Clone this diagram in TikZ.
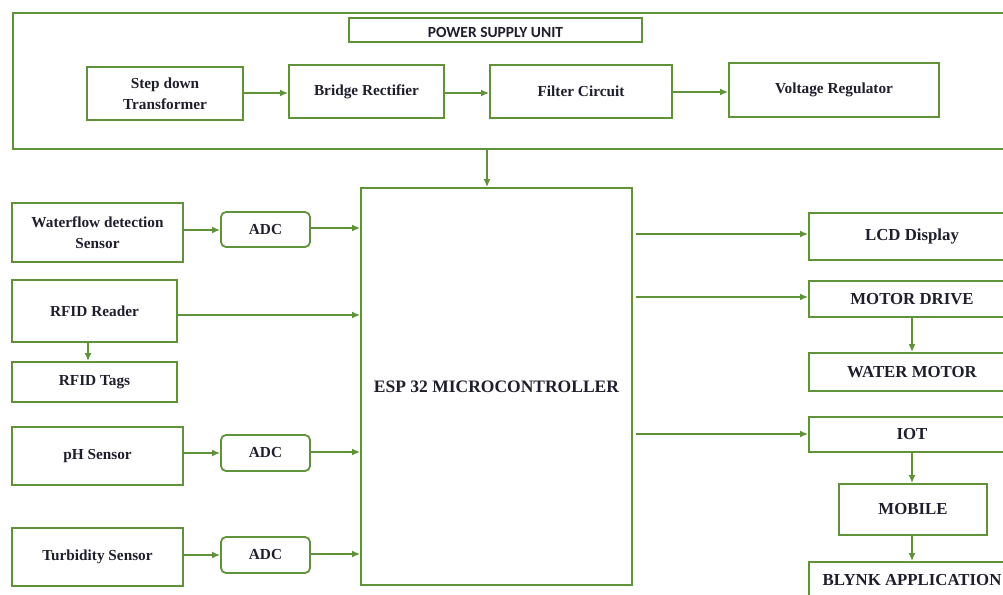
\documentclass[tikz,border=0pt]{standalone}
\usepackage{fontspec}
\setmainfont{Liberation Serif}
\newfontfamily\calib{Carlito}
\usetikzlibrary{arrows.meta,calc}
\definecolor{gr}{RGB}{96,146,58}
\definecolor{ink}{RGB}{30,30,45}
\begin{document}
\begin{tikzpicture}[x=1pt,y=-1pt,
  box/.style={draw=gr,line width=1.8pt,inner sep=0pt,align=center,text=ink,
    font=\fontsize{15.3}{21}\selectfont\bfseries},
  bigbox/.style={box,font=\fontsize{16.8}{20}\selectfont\bfseries},
  adcbox/.style={box,rounded corners=5pt},
  arr/.style={draw=gr,line width=1.9pt,-{Latex[length=8pt,width=7pt]}}]
\useasboundingbox (0,0) rectangle (1003,594);
\clip (0,0) rectangle (1003,594);
% power supply unit
\node[box,minimum width=998,minimum height=136,anchor=north west] (psu) at (12,12) {};
\node[box,minimum width=293,minimum height=24,text depth=0pt,font=\calib\fontsize{15.5}{17}\selectfont\bfseries] (title) at (495.5,30) {\raisebox{-5pt}{POWER SUPPLY UNIT}};
\node[box,minimum width=156,minimum height=53] (sdt) at (165,93.5) {Step down\\Transformer};
\node[box,minimum width=155,minimum height=53] (br) at (366.5,91.5) {Bridge Rectifier};
\node[box,minimum width=182,minimum height=53] (fc) at (581,91.5) {Filter Circuit};
\node[box,minimum width=210,minimum height=54] (vr) at (834,90) {Voltage Regulator};
\draw[arr] (sdt.east |- 0,93) -- (br.west |- 0,93);
\draw[arr] (br.east |- 0,93) -- (fc.west |- 0,93);
\draw[arr] (fc.east |- 0,92) -- (vr.west |- 0,92);
% microcontroller
\node[box,font=\fontsize{17.5}{20}\selectfont\bfseries,minimum width=271,minimum height=397] (esp) at (496.5,386.5) {ESP 32 MICROCONTROLLER};
\draw[arr] ([xshift=-9.5pt]psu.south -| esp.north) -- ([xshift=-9.5pt]esp.north);
% left side
\node[box,minimum width=171,minimum height=59] (wf) at (97.5,232.5) {Waterflow detection\\Sensor};
\node[adcbox,minimum width=89,minimum height=35] (adc1) at (265.5,229.5) {ADC};
\node[box,minimum width=165,minimum height=62] (rr) at (94.5,311) {RFID Reader};
\node[box,minimum width=165,minimum height=40] (rt) at (94.5,382) {RFID Tags};
\node[box,minimum width=171,minimum height=58] (ph) at (97.5,456) {pH Sensor};
\node[adcbox,minimum width=89,minimum height=36] (adc2) at (265.5,453) {ADC};
\node[box,minimum width=171,minimum height=58] (tb) at (97.5,557) {Turbidity Sensor};
\node[adcbox,minimum width=89,minimum height=36] (adc3) at (265.5,555) {ADC};
\draw[arr] (wf.east |- 0,230) -- (adc1.west |- 0,230);
\draw[arr] (adc1.east |- 0,228) -- (esp.west |- 0,228);
\draw[arr] (rr.east |- 0,315) -- (esp.west |- 0,315);
\draw[arr] (rr.south -| 88,0) -- (rt.north -| 88,0);
\draw[arr] (ph.east |- 0,453) -- (adc2.west |- 0,453);
\draw[arr] (adc2.east |- 0,452) -- (esp.west |- 0,452);
\draw[arr] (tb.east |- 0,555) -- (adc3.west |- 0,555);
\draw[arr] (adc3.east |- 0,554) -- (esp.west |- 0,554);
% right side
\node[bigbox,minimum width=206,minimum height=47] (lcd) at (912,236.5) {LCD Display};
\node[bigbox,minimum width=206,minimum height=36] (md) at (912,299) {MOTOR DRIVE};
\node[bigbox,minimum width=206,minimum height=38] (wm) at (912,372) {WATER MOTOR};
\node[bigbox,minimum width=206,minimum height=35] (iot) at (912,434.5) {IOT};
\node[bigbox,minimum width=148,minimum height=51] (mob) at (913,509.5) {MOBILE};
\node[bigbox,minimum width=206,minimum height=36] (bly) at (912,580) {BLYNK APPLICATION};
\draw[arr] ([xshift=3pt]esp.east |- 0,234) -- (lcd.west |- 0,234);
\draw[arr] ([xshift=3pt]esp.east |- 0,297) -- (md.west |- 0,297);
\draw[arr] ([xshift=3pt]esp.east |- 0,434) -- (iot.west |- 0,434);
\draw[arr] (md.south) -- (wm.north);
\draw[arr] (iot.south) -- (mob.north -| iot.south);
\draw[arr] (mob.south -| iot.south) -- (bly.north);
\end{tikzpicture}
\end{document}
